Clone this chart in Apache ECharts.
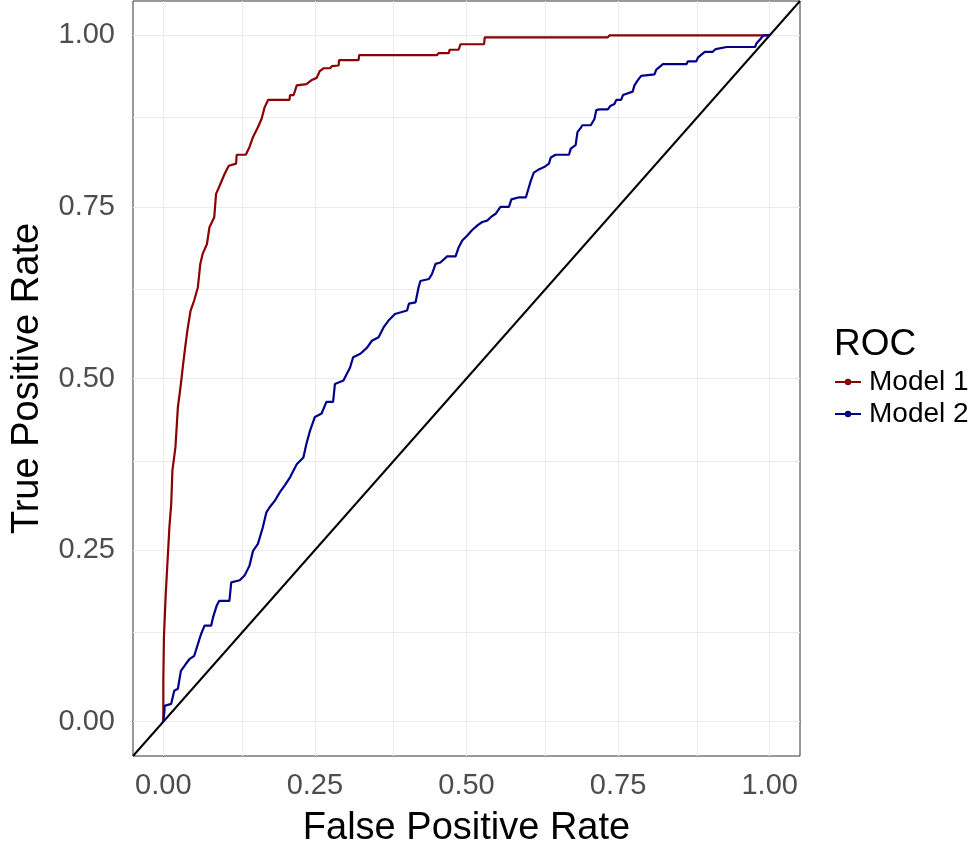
<!DOCTYPE html>
<html>
<head>
<meta charset="utf-8">
<script src="https://cdn.jsdelivr.net/npm/echarts@6/dist/echarts.min.js"></script>
<style>
  html, body { margin: 0; padding: 0; background: #fff; }
  #chart { width: 975px; height: 852px; }
</style>
</head>
<body>
<div id="chart"></div>
<script>
// ROC points: [false positive rate, true positive rate]
const model1 = [
  [0, 0], [0, 0.06], [0.001, 0.123], [0.004, 0.186], [0.010, 0.283], [0.013, 0.317],
  [0.015, 0.366], [0.020, 0.40], [0.024, 0.458], [0.029, 0.492], [0.032, 0.516],
  [0.036, 0.545], [0.040, 0.572], [0.045, 0.599], [0.051, 0.614], [0.057, 0.633],
  [0.061, 0.667], [0.065, 0.682], [0.072, 0.696], [0.076, 0.720], [0.084, 0.735],
  [0.087, 0.769], [0.092, 0.779], [0.101, 0.798], [0.108, 0.810], [0.120, 0.813],
  [0.121, 0.826], [0.136, 0.826], [0.142, 0.837], [0.148, 0.852], [0.156, 0.866],
  [0.162, 0.878], [0.167, 0.895], [0.173, 0.906], [0.208, 0.906], [0.209, 0.913],
  [0.215, 0.913], [0.220, 0.927], [0.236, 0.929], [0.245, 0.935], [0.253, 0.938],
  [0.258, 0.948], [0.264, 0.952], [0.275, 0.952], [0.278, 0.955], [0.289, 0.956],
  [0.290, 0.964], [0.322, 0.964], [0.323, 0.971], [0.451, 0.971], [0.454, 0.974],
  [0.471, 0.974], [0.472, 0.979], [0.487, 0.979], [0.490, 0.987], [0.529, 0.987],
  [0.530, 0.997], [0.733, 0.997], [0.736, 1.0], [1.0, 1.0]
]

const model2 = [
  [0, 0], [0.002, 0.016], [0.002, 0.023], [0.013, 0.026], [0.018, 0.045], [0.024, 0.048],
  [0.029, 0.074], [0.037, 0.084], [0.043, 0.091], [0.051, 0.096], [0.057, 0.113],
  [0.062, 0.127], [0.068, 0.140], [0.079, 0.140], [0.082, 0.152], [0.088, 0.169],
  [0.092, 0.176], [0.109, 0.176], [0.112, 0.203], [0.126, 0.206], [0.134, 0.213],
  [0.142, 0.227], [0.148, 0.249], [0.156, 0.259], [0.164, 0.283], [0.170, 0.305],
  [0.175, 0.312], [0.184, 0.322], [0.192, 0.334], [0.200, 0.344], [0.209, 0.356],
  [0.220, 0.375], [0.231, 0.385], [0.236, 0.405], [0.242, 0.424], [0.250, 0.444],
  [0.261, 0.449], [0.269, 0.466], [0.280, 0.466], [0.283, 0.492], [0.297, 0.497],
  [0.308, 0.516], [0.313, 0.531], [0.325, 0.536], [0.336, 0.545], [0.344, 0.555],
  [0.355, 0.560], [0.363, 0.574], [0.371, 0.584], [0.382, 0.594], [0.402, 0.599],
  [0.405, 0.609], [0.416, 0.611], [0.421, 0.633], [0.424, 0.642], [0.438, 0.645],
  [0.443, 0.652], [0.449, 0.667], [0.457, 0.669], [0.468, 0.678], [0.482, 0.678],
  [0.487, 0.691], [0.493, 0.701], [0.501, 0.708], [0.509, 0.716], [0.518, 0.723],
  [0.526, 0.728], [0.534, 0.730], [0.540, 0.735], [0.548, 0.740], [0.556, 0.750],
  [0.570, 0.750], [0.574, 0.761], [0.587, 0.764], [0.598, 0.764], [0.602, 0.776],
  [0.606, 0.788], [0.611, 0.800], [0.620, 0.805], [0.628, 0.808], [0.636, 0.813],
  [0.639, 0.822], [0.647, 0.826], [0.669, 0.826], [0.672, 0.835], [0.680, 0.840],
  [0.683, 0.859], [0.689, 0.866], [0.691, 0.869], [0.705, 0.869], [0.711, 0.878],
  [0.714, 0.891], [0.719, 0.892], [0.733, 0.892], [0.737, 0.897], [0.744, 0.900],
  [0.747, 0.906], [0.755, 0.906], [0.758, 0.913], [0.774, 0.918], [0.777, 0.927],
  [0.782, 0.934], [0.788, 0.941], [0.810, 0.943], [0.813, 0.950], [0.824, 0.958],
  [0.863, 0.958], [0.865, 0.962], [0.879, 0.962], [0.882, 0.968], [0.893, 0.976],
  [0.906, 0.976], [0.911, 0.980], [0.929, 0.983], [0.976, 0.983], [0.978, 0.988],
  [0.984, 0.994], [0.990, 1.0], [1.0, 1.0]
]

// reference line y = x across the whole panel
const diagonal = [[-0.05, -0.05], [1.05, 1.05]]

const seriesNames = ['Model 1', 'Model 2']
const majorTicks = [0, 0.25, 0.5, 0.75, 1]
const minorTicks = [0.125, 0.375, 0.625, 0.875]

const FONT = "'Liberation Sans', Arial, sans-serif"

let mychart = echarts.init(document.getElementById('chart'))

// gridlines drawn as markLines so they sit on the ggplot breaks
let gridLines = []
majorTicks.concat(minorTicks).forEach(function (v) {
  gridLines.push({ xAxis: v })
  gridLines.push({ yAxis: v })
})

function axisCfg(name, gap, isY) {
  return {
    type: 'value',
    min: -0.05,
    max: 1.05,
    name: name,
    nameLocation: 'middle',
    nameGap: gap,
    nameTextStyle: { color: '#000', fontSize: 38, fontFamily: FONT },
    axisLine: { show: true, lineStyle: { color: '#333', width: 1 } },
    axisTick: {
      show: true,
      customValues: majorTicks,
      length: 8,
      lineStyle: { color: '#333', width: 1 },
    },
    axisLabel: {
      customValues: majorTicks,
      formatter: function (v) { return v.toFixed(2) },
      color: '#4D4D4D',
      fontSize: 29,
      fontFamily: FONT,
      margin: isY ? 18 : 15,
    },
    splitLine: { show: false },
  }
}

mychart.setOption({
  animation: false,
  backgroundColor: '#fff',
  grid: {
    left: 133,
    right: 175,
    top: 1,
    bottom: 96,
    show: true,
    borderColor: '#333',
    borderWidth: 1,
    containLabel: false,
    outerBoundsMode: 'none',
  },
  title: {
    text: 'ROC',
    left: 834,
    top: 326,
    padding: 0,
    textStyle: { color: '#000', fontSize: 37, fontWeight: 'normal', fontFamily: FONT },
  },
  legend: {
    data: seriesNames,
    orient: 'vertical',
    left: 834,
    top: 368,
    padding: 0,
    itemWidth: 26,
    itemHeight: 8,
    itemGap: 4,
    textStyle: { color: '#000', fontSize: 28, fontFamily: FONT, padding: [0, 0, 0, 3] },
  },
  xAxis: axisCfg('False Positive Rate', 54, false),
  yAxis: axisCfg('True Positive Rate', 86, true),
  series: [
    {
      name: 'grid',
      type: 'line',
      data: [],
      z: 1,
      silent: true,
      markLine: {
        silent: true,
        z: 1,
        symbol: 'none',
        label: { show: false },
        lineStyle: { color: '#EBEBEB', type: 'solid', width: 1 },
        data: gridLines,
      },
    },
    {
      name: 'diagonal',
      type: 'line',
      data: diagonal,
      showSymbol: false,
      z: 3,
      lineStyle: { color: '#000', width: 2 },
    },
    {
      name: 'Model 1',
      type: 'line',
      data: model1,
      symbol: 'circle',
      showSymbol: false,
      z: 4,
      itemStyle: { color: '#8B0000' },
      lineStyle: { color: '#8B0000', width: 2.2 },
    },
    {
      name: 'Model 2',
      type: 'line',
      data: model2,
      symbol: 'circle',
      showSymbol: false,
      z: 4,
      itemStyle: { color: '#00008B' },
      lineStyle: { color: '#00008B', width: 2.2 },
    },
  ],
})
</script>
</body>
</html>
